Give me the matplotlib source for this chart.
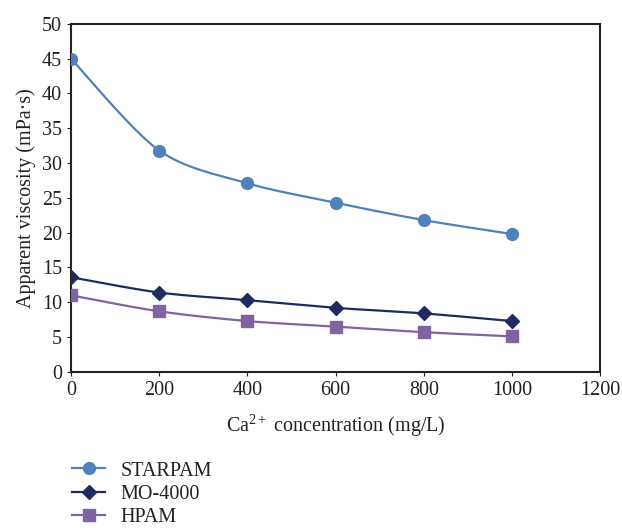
import numpy as np
import matplotlib
matplotlib.use('Agg')
import matplotlib.pyplot as plt
from matplotlib.lines import Line2D

plt.rcParams['font.family'] = ['Liberation Serif', 'DejaVu Serif']
plt.rcParams['mathtext.fontset'] = 'custom'
plt.rcParams['mathtext.rm'] = 'Liberation Serif'
plt.rcParams['mathtext.it'] = 'Liberation Serif:italic'

# data
ca_conc = [0, 200, 400, 600, 800, 1000]
starpam = [45.0, 31.8, 27.1, 24.3, 21.8, 19.8]
mo4000 = [13.6, 11.4, 10.3, 9.2, 8.4, 7.3]
hpam = [11.0, 8.7, 7.3, 6.5, 5.7, 5.1]

series = [
    ('STARPAM', starpam, '#4F81BD', 'o', 8.5),
    ('MO-4000', mo4000, '#1F2B5E', 'D', 7),
    ('HPAM', hpam, '#8064A2', 's', 8.5),
]


def smooth(x, y, n=30):
    # catmull-rom style curve through the points (like excel smoothed lines)
    x = np.asarray(x, float)
    y = np.asarray(y, float)
    xs, ys = [], []
    for i in range(len(x) - 1):
        x0, y0 = (x[i - 1], y[i - 1]) if i > 0 else (x[i], y[i])
        x3, y3 = (x[i + 2], y[i + 2]) if i + 2 < len(x) else (x[i + 1], y[i + 1])
        x1, y1, x2, y2 = x[i], y[i], x[i + 1], y[i + 1]
        t = np.linspace(0, 1, n)
        m1x, m1y = (x2 - x0) / 2 * 0.9, (y2 - y0) / 2 * 0.9
        m2x, m2y = (x3 - x1) / 2 * 0.9, (y3 - y1) / 2 * 0.9
        h00 = 2 * t**3 - 3 * t**2 + 1
        h10 = t**3 - 2 * t**2 + t
        h01 = -2 * t**3 + 3 * t**2
        h11 = t**3 - t**2
        xs.append(h00 * x1 + h10 * m1x + h01 * x2 + h11 * m2x)
        ys.append(h00 * y1 + h10 * m1y + h01 * y2 + h11 * m2y)
    return np.concatenate(xs), np.concatenate(ys)


fig = plt.figure(figsize=(6.22, 5.29), dpi=100)
ax = fig.add_axes([0.114, 0.297, 0.851, 0.658])

handles = []
for name, vals, color, mk, ms in series:
    sx, sy = smooth(ca_conc, vals)
    ax.plot(sx, sy, color=color, lw=1.6, zorder=2)
    ax.plot(ca_conc, vals, linestyle='none', marker=mk, color=color, markersize=ms, zorder=3)
    handles.append(Line2D([], [], color=color, lw=1.6, marker=mk, markersize=ms))

ax.set_xlim(0, 1200)
ax.set_ylim(0, 50)
ax.set_xticks(range(0, 1201, 200))
ax.set_yticks(range(0, 51, 5))
ax.tick_params(labelsize=14.5, length=3, direction='out', colors='#222222')
for s in ax.spines.values():
    s.set_linewidth(1.5)
    s.set_color('#222222')

ax.set_xlabel('Ca$^{2+}$ concentration (mg/L)', fontsize=14.5, labelpad=9, color='#222222')
ax.set_ylabel('Apparent viscosity (mPa·s)', fontsize=14.5, labelpad=4, color='#222222')

fig.legend(handles, [s[0] for s in series], loc='upper left',
           bbox_to_anchor=(0.103, 0.143), frameon=False, fontsize=14.5,
           handlelength=1.65, handletextpad=0.75, labelspacing=0.2, borderaxespad=0,
           labelcolor='#222222')

fig.savefig('out.png', dpi=100)
